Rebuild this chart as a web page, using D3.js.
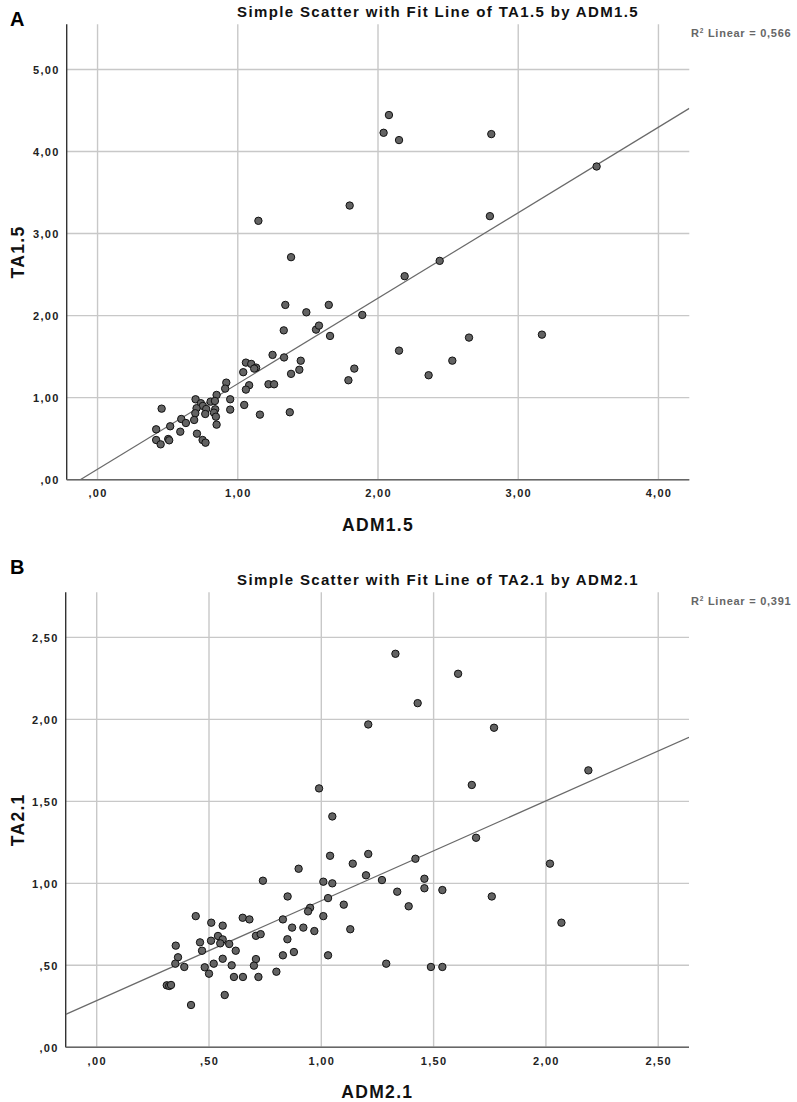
<!DOCTYPE html>
<html>
<head>
<meta charset="utf-8">
<script src="https://cdn.jsdelivr.net/npm/d3@7"></script>
<style>
  html, body { margin: 0; padding: 0; background: #fff; }
  svg { display: block; }
  text { font-family: "Liberation Sans", Arial, Helvetica, sans-serif; }
</style>
</head>
<body>
<svg id="chart" width="797" height="1102"></svg>
<script>
// ---------- DATA ----------
const adm15 = [2.078, 2.04, 2.15, 2.808, 3.559, 1.798, 2.798, 1.147, 1.38, 2.44, 2.19, 1.339, 1.489, 1.649, 1.888,
  1.328, 1.558, 1.579, 1.658, 1.33, 1.449, 1.38, 1.439, 1.789, 1.831, 2.15, 2.361, 2.53, 2.649, 3.169, 1.371, 1.248,
  1.058, 1.096, 1.131, 1.117, 1.039, 1.219, 1.259, 1.081, 1.058, 0.918, 0.91, 0.849, 0.946, 0.946, 1.046, 1.158,
  0.699, 0.737, 0.751, 0.806, 0.837, 0.706, 0.775, 0.839, 0.83, 0.844, 0.768, 0.697, 0.689, 0.849, 0.597, 0.63,
  0.518, 0.59, 0.457, 0.418, 0.418, 0.45, 0.504, 0.511, 0.709, 0.749, 0.77];
const ta15 = [4.444, 4.228, 4.139, 4.212, 3.817, 3.341, 3.212, 3.155, 2.712, 2.667, 2.48, 2.13, 2.04, 2.13, 2.008,
  1.82, 1.829, 1.878, 1.752, 1.49, 1.45, 1.29, 1.34, 1.212, 1.354, 1.573, 1.273, 1.451, 1.732, 1.768, 0.822, 1.521,
  1.427, 1.411, 1.366, 1.354, 1.31, 1.163, 1.163, 1.151, 1.098, 1.183, 1.11, 1.033, 0.98, 0.854, 0.911, 0.793,
  0.98, 0.932, 0.899, 0.951, 0.96, 0.871, 0.862, 0.858, 0.817, 0.768, 0.801, 0.81, 0.728, 0.671, 0.74, 0.691,
  0.651, 0.585, 0.866, 0.614, 0.484, 0.431, 0.496, 0.48, 0.561, 0.484, 0.451];

const adm21 = [1.33, 1.609, 1.429, 1.209, 1.769, 2.189, 1.67, 0.99, 1.049, 1.689, 1.039, 1.209, 1.14, 1.419, 2.018,
  0.899, 1.199, 1.27, 1.459, 1.009, 1.049, 1.459, 1.539, 1.338, 1.03, 0.85, 1.759, 1.389, 1.10, 0.95, 0.941, 0.829,
  1.009, 2.069, 0.87, 0.92, 0.969, 1.129, 0.849, 0.878, 0.829, 1.03, 1.289, 1.488, 1.539,
  0.74, 0.441, 0.51, 0.561, 0.65, 0.68, 0.54, 0.561, 0.509, 0.46, 0.55, 0.59, 0.709, 0.73, 0.352, 0.469, 0.619,
  0.362, 0.35, 0.39, 0.481, 0.521, 0.561, 0.50, 0.601, 0.709, 0.70, 0.611, 0.651, 0.72, 0.80, 0.312, 0.323, 0.331,
  0.57, 0.42];
const ta21 = [2.40, 2.278, 2.099, 1.969, 1.949, 1.689, 1.60, 1.579, 1.408, 1.278, 1.168, 1.179, 1.12, 1.15, 1.12,
  1.089, 1.049, 1.02, 1.028, 1.01, 1.0, 0.97, 0.959, 0.949, 0.91, 0.92, 0.92, 0.86, 0.87, 0.851, 0.829, 0.78,
  0.80, 0.76, 0.73, 0.73, 0.709, 0.72, 0.659, 0.581, 0.561, 0.561, 0.51, 0.49, 0.49,
  1.016, 0.80, 0.76, 0.742, 0.79, 0.78, 0.679, 0.658, 0.65, 0.64, 0.634, 0.63, 0.68, 0.69, 0.62, 0.589, 0.589,
  0.549, 0.51, 0.49, 0.488, 0.51, 0.54, 0.449, 0.50, 0.538, 0.498, 0.429, 0.429, 0.429, 0.461, 0.378, 0.374, 0.38,
  0.319, 0.258];

// fit lines: [intercept, slope]
const fitA = [0.128, 1.042];
const fitB = [0.285, 0.609];
const r2A = "0,566";
const r2B = "0,391";

const xTicksA = [0, 1, 2, 3, 4];
const yTicksA = [0, 1, 2, 3, 4, 5];
const xTicksB = [0, 0.5, 1, 1.5, 2, 2.5];
const yTicksB = [0, 0.5, 1, 1.5, 2, 2.5];

const titleA = "Simple Scatter with Fit Line of TA1.5 by ADM1.5";
const titleB = "Simple Scatter with Fit Line of TA2.1 by ADM2.1";

// ---------- DRAWING ----------
const svg = d3.select("#chart");
svg.append("rect").attr("width", 797).attr("height", 1102).attr("fill", "#fff");

const fmt = v => d3.format(".2f")(v).replace(".", ",").replace(/^0,/, ",");

function panel(cfg) {
  const g = svg.append("g");
  const x = d3.scaleLinear().domain(cfg.xDomain).range([cfg.left, cfg.right]);
  const y = d3.scaleLinear().domain(cfg.yDomain).range([cfg.bottom, cfg.top]);

  const clipId = "clip" + cfg.id;
  svg.append("defs").append("clipPath").attr("id", clipId)
    .append("rect").attr("x", cfg.left).attr("y", cfg.top)
    .attr("width", cfg.right - cfg.left).attr("height", cfg.bottom - cfg.top);

  // gridlines
  g.append("g").selectAll("line").data(cfg.xTicks).join("line")
    .attr("x1", d => x(d)).attr("x2", d => x(d))
    .attr("y1", cfg.top).attr("y2", cfg.bottom)
    .attr("stroke", "#c8c8c8").attr("stroke-width", 1.4);
  g.append("g").selectAll("line").data(cfg.yTicks).join("line")
    .attr("x1", cfg.left).attr("x2", cfg.right)
    .attr("y1", d => y(d)).attr("y2", d => y(d))
    .attr("stroke", "#c8c8c8").attr("stroke-width", 1.4);

  // axes via d3 axis (labels only, no tick marks)
  const xAxis = d3.axisBottom(x).tickValues(cfg.xTicks).tickFormat(fmt).tickSize(0).tickPadding(10);
  const yAxis = d3.axisLeft(y).tickValues(cfg.yTicks).tickFormat(fmt).tickSize(0).tickPadding(7);
  const gx = g.append("g").attr("transform", `translate(0,${cfg.bottom})`).call(xAxis);
  const gy = g.append("g").attr("transform", `translate(${cfg.left},0)`).call(yAxis);
  [gx, gy].forEach(a => {
    a.select(".domain").remove();
    a.selectAll("text").attr("font-family", "Liberation Sans, Arial, sans-serif")
      .attr("font-size", 11).attr("font-weight", "bold").attr("fill", "#222")
      .style("letter-spacing", "1.3px");
  });
  gy.selectAll("text").attr("dy", "0.36em");

  // axis lines
  g.append("line").attr("x1", cfg.left).attr("x2", cfg.left).attr("y1", cfg.top).attr("y2", cfg.bottom)
    .attr("stroke", "#333").attr("stroke-width", 1.4);
  g.append("line").attr("x1", cfg.left).attr("x2", cfg.right).attr("y1", cfg.bottom).attr("y2", cfg.bottom)
    .attr("stroke", "#666").attr("stroke-width", 1.6);

  // fit line
  const [b0, b1] = cfg.fit;
  g.append("line")
    .attr("clip-path", `url(#${clipId})`)
    .attr("x1", x(cfg.xDomain[0])).attr("y1", y(b0 + b1 * cfg.xDomain[0]))
    .attr("x2", x(cfg.xDomain[1])).attr("y2", y(b0 + b1 * cfg.xDomain[1]))
    .attr("stroke", "#6a6a6a").attr("stroke-width", 1.2);

  // points
  const pts = cfg.xs.map((v, i) => [v, cfg.ys[i]]);
  g.append("g").selectAll("circle").data(pts).join("circle")
    .attr("cx", d => x(d[0])).attr("cy", d => y(d[1])).attr("r", 3.7)
    .attr("fill", "#636363").attr("stroke", "#111").attr("stroke-width", 1);

  // titles & labels
  g.append("text").attr("x", 438).attr("y", cfg.top - 7.5).attr("text-anchor", "middle")
    .attr("font-size", 15).attr("font-weight", "bold").attr("fill", "#111")
    .style("letter-spacing", "1.35px").text(cfg.title);

  const r2 = g.append("text").attr("x", 691).attr("y", cfg.top + 12.3)
    .attr("font-size", 11).attr("font-weight", "bold").attr("fill", "#666")
    .style("letter-spacing", "0.75px");
  r2.append("tspan").text("R");
  r2.append("tspan").attr("font-size", 6.5).attr("dy", -4).text("2");
  r2.append("tspan").attr("dy", 4).text(" Linear = " + cfg.r2);

  g.append("text").attr("x", (cfg.left + cfg.right) / 2).attr("y", cfg.bottom + 51)
    .attr("text-anchor", "middle").attr("font-size", 17.5).attr("font-weight", "bold").attr("fill", "#111")
    .style("letter-spacing", "1.3px").text(cfg.xLabel);
  g.append("text")
    .attr("transform", `translate(24,${(cfg.top + cfg.bottom) / 2}) rotate(-90)`)
    .attr("text-anchor", "middle").attr("font-size", 17.5).attr("font-weight", "bold").attr("fill", "#111")
    .style("letter-spacing", "1.3px").text(cfg.yLabel);

  g.append("text").attr("x", 10).attr("y", cfg.letterY)
    .attr("font-size", 20).attr("font-weight", "bold").attr("fill", "#000").text(cfg.letter);
}

panel({
  id: "A", xs: adm15, ys: ta15, fit: fitA, r2: r2A,
  xDomain: [-0.22, 4.22], yDomain: [0, 5.55],
  left: 66.7, right: 689.3, top: 24.3, bottom: 479.7,
  xTicks: xTicksA, yTicks: yTicksA, title: titleA,
  xLabel: "ADM1.5", yLabel: "TA1.5", letter: "A", letterY: 26
});
panel({
  id: "B", xs: adm21, ys: ta21, fit: fitB, r2: r2B,
  xDomain: [-0.138, 2.637], yDomain: [0, 2.775],
  left: 65.7, right: 689, top: 592.3, bottom: 1047.3,
  xTicks: xTicksB, yTicks: yTicksB, title: titleB,
  xLabel: "ADM2.1", yLabel: "TA2.1", letter: "B", letterY: 574
});
</script>
</body>
</html>
